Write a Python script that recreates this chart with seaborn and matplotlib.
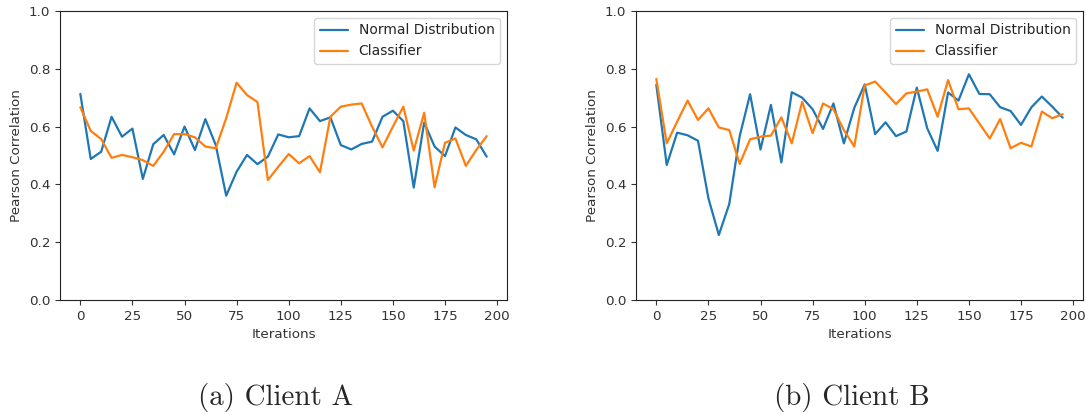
import numpy as np
import pandas as pd
import matplotlib
matplotlib.use("Agg")
import matplotlib.pyplot as plt
import seaborn as sns

iterations = list(range(0, 200, 5))

client_a_normal = [0.713, 0.488, 0.513, 0.634, 0.565, 0.593, 0.419, 0.539, 0.571, 0.504,
                   0.600, 0.519, 0.626, 0.536, 0.361, 0.444, 0.502, 0.470, 0.496, 0.573,
                   0.563, 0.567, 0.663, 0.619, 0.632, 0.536, 0.521, 0.540, 0.548, 0.634,
                   0.655, 0.619, 0.389, 0.614, 0.531, 0.498, 0.597, 0.571, 0.556, 0.496]
client_a_classifier = [0.667, 0.585, 0.557, 0.492, 0.502, 0.494, 0.484, 0.464, 0.513, 0.574,
                       0.574, 0.563, 0.531, 0.525, 0.629, 0.752, 0.709, 0.685, 0.415, 0.461,
                       0.505, 0.473, 0.498, 0.442, 0.634, 0.669, 0.676, 0.680, 0.600, 0.528,
                       0.600, 0.669, 0.517, 0.648, 0.390, 0.544, 0.559, 0.464, 0.519, 0.567]

client_b_normal = [0.745, 0.467, 0.579, 0.570, 0.551, 0.352, 0.225, 0.332, 0.567, 0.712,
                   0.521, 0.675, 0.476, 0.719, 0.700, 0.660, 0.592, 0.680, 0.542, 0.665,
                   0.746, 0.574, 0.615, 0.567, 0.583, 0.735, 0.594, 0.516, 0.718, 0.690,
                   0.781, 0.713, 0.712, 0.667, 0.654, 0.606, 0.667, 0.704, 0.669, 0.631]
client_b_classifier = [0.765, 0.542, 0.617, 0.690, 0.623, 0.663, 0.597, 0.588, 0.471, 0.556,
                       0.565, 0.569, 0.632, 0.542, 0.686, 0.577, 0.680, 0.660, 0.588, 0.531,
                       0.742, 0.756, 0.718, 0.678, 0.715, 0.721, 0.729, 0.634, 0.761, 0.660,
                       0.663, 0.611, 0.559, 0.626, 0.525, 0.544, 0.531, 0.652, 0.629, 0.643]

series_names = ["Normal Distribution", "Classifier"]
captions = ["(a) Client A", "(b) Client B"]
x_ticks = [0, 25, 50, 75, 100, 125, 150, 175, 200]
y_ticks = [0.0, 0.2, 0.4, 0.6, 0.8, 1.0]

sns.set_theme(style="ticks")
plt.rcParams["font.family"] = ["DejaVu Sans"]

fig = plt.figure(figsize=(10.86, 4.13), dpi=100)
W, H = 1086, 413
axes_px = [(60, 11, 447, 289), (636, 11, 447, 289)]
caption_x = [276, 852]
datasets = [(client_a_normal, client_a_classifier), (client_b_normal, client_b_classifier)]
palette = ["#1f77b4", "#ff7f0e"]

for (l, t, w, h), (normal, clf), cap, cx in zip(axes_px, datasets, captions, caption_x):
    ax = fig.add_axes([l / W, 1 - (t + h) / H, w / W, h / H])
    df = pd.DataFrame({
        "Iterations": iterations * 2,
        "value": normal + clf,
        "series": [series_names[0]] * len(iterations) + [series_names[1]] * len(iterations),
    })
    sns.lineplot(data=df, x="Iterations", y="value", hue="series", palette=palette,
                 ax=ax, linewidth=1.6)
    ax.set_ylim(0, 1.0)
    ax.set_xlim(-9.75, 204.75)
    ax.set_xticks(x_ticks)
    ax.set_yticks(y_ticks)
    ax.set_xlabel("Iterations", fontsize=9.7, color="#333333")
    ax.set_ylabel("Pearson Correlation", fontsize=9.7, color="#333333")
    ax.tick_params(labelsize=9.7, length=3.5, width=0.8, colors="#333333")
    for s in ax.spines.values():
        s.set_linewidth(0.8)
        s.set_color("#222222")
    ax.legend(loc="upper right", fontsize=10, frameon=True, fancybox=True,
              edgecolor="#cccccc", framealpha=0.8)
    fig.text(cx / W, 1 - 405 / H, cap, ha="center", va="baseline",
             fontsize=20.9, family="cmr10")

fig.savefig("out.png", dpi=100)
